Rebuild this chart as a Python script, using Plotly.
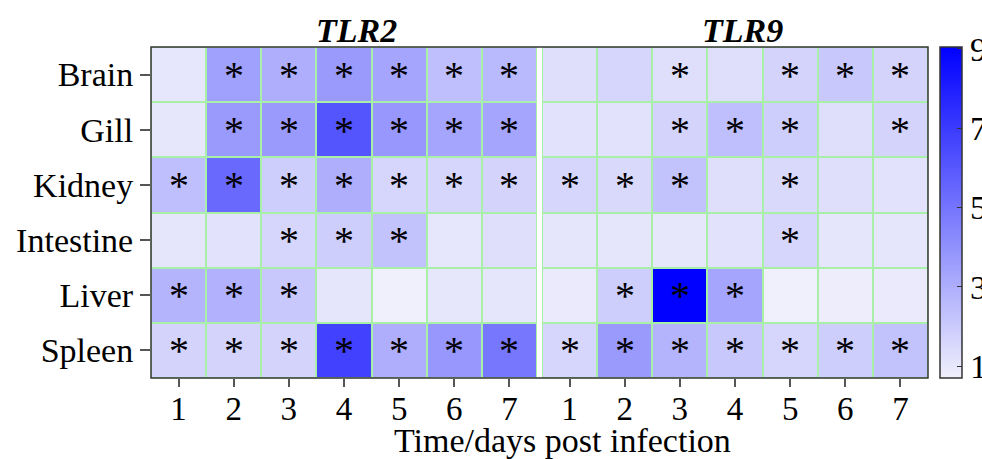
import plotly.graph_objects as go

tissues = ["Brain", "Gill", "Kidney", "Intestine", "Liver", "Spleen"]
days = [1, 2, 3, 4, 5, 6, 7]
colorbar_ticks = [1, 3, 5, 7, 9]

tlr2 = [
    [1.05, 3.5, 3.0, 3.7, 3.3, 2.4, 2.6],
    [1.0, 3.7, 3.7, 6.1, 3.8, 3.3, 3.3],
    [2.4, 5.4, 1.9, 3.0, 1.6, 1.6, 1.7],
    [1.1, 1.2, 1.6, 1.9, 2.3, 1.05, 1.3],
    [2.8, 2.9, 2.1, 1.1, 0.7, 1.0, 1.1],
    [1.7, 1.7, 1.7, 6.8, 3.0, 3.8, 4.9],
]
tlr9 = [
    [1.3, 1.6, 1.3, 1.3, 1.7, 2.1, 1.7],
    [1.2, 1.2, 1.7, 2.4, 1.9, 1.3, 1.7],
    [1.6, 1.5, 2.3, 1.3, 1.5, 1.3, 1.2],
    [1.1, 1.1, 1.0, 1.2, 1.6, 1.1, 1.1],
    [0.9, 1.9, 9.0, 3.3, 0.7, 0.8, 0.9],
    [1.6, 3.7, 2.8, 2.1, 1.6, 1.9, 2.3],
]
# 1 = significant (asterisk)
sig2 = [
    [0, 1, 1, 1, 1, 1, 1],
    [0, 1, 1, 1, 1, 1, 1],
    [1, 1, 1, 1, 1, 1, 1],
    [0, 0, 1, 1, 1, 0, 0],
    [1, 1, 1, 0, 0, 0, 0],
    [1, 1, 1, 1, 1, 1, 1],
]
sig9 = [
    [0, 0, 1, 0, 1, 1, 1],
    [0, 0, 1, 1, 1, 0, 1],
    [1, 1, 1, 0, 1, 0, 0],
    [0, 0, 0, 0, 1, 0, 0],
    [0, 1, 1, 1, 0, 0, 0],
    [1, 1, 1, 1, 1, 1, 1],
]

ZMIN, ZMAX = 0.7, 9.05
cscale = [[0, "rgb(240,240,252)"], [1, "rgb(0,0,255)"]]
SERIF = "Liberation Serif"
GRID = "#a8f0a8"


def stars(sig):
    return [["*" if s else "" for s in row] for row in sig]


fig = go.Figure()
fig.add_trace(go.Heatmap(
    z=tlr2, x=days, y=tissues, text=stars(sig2), texttemplate="%{text}",
    textfont=dict(family=SERIF, size=40, color="black"),
    colorscale=cscale, zmin=ZMIN, zmax=ZMAX, xgap=2, ygap=2,
    xaxis="x", yaxis="y", showscale=False, hoverinfo="z",
))
fig.add_trace(go.Heatmap(
    z=tlr9, x=days, y=tissues, text=stars(sig9), texttemplate="%{text}",
    textfont=dict(family=SERIF, size=40, color="black"),
    colorscale=cscale, zmin=ZMIN, zmax=ZMAX, xgap=2, ygap=2,
    xaxis="x2", yaxis="y2", showscale=True,
    colorbar=dict(
        x=1.0154, xanchor="left", xpad=0, thickness=22, len=1, ypad=0,
        y=0.5, yanchor="middle", outlinecolor="#333", outlinewidth=1.5,
        tickvals=colorbar_ticks, ticks="inside", ticklen=5, tickcolor="#333",
        tickfont=dict(family=SERIF, size=34, color="black"),
    ),
))

tickfont = dict(family=SERIF, size=33, color="black")
xcommon = dict(tickvals=days, ticks="outside", ticklen=8, tickcolor="#555",
               tickwidth=1.5, tickfont=tickfont, ticklabelstandoff=-7,
               showgrid=False, zeroline=False, range=[0.5, 7.5])
fig.update_layout(
    width=982, height=459,
    margin=dict(l=151, r=54, t=47, b=81, autoexpand=False),
    paper_bgcolor="white", plot_bgcolor=GRID,
    xaxis=dict(domain=[0, 0.4968], **xcommon),
    xaxis2=dict(domain=[0.5032, 1], **xcommon),
    yaxis=dict(autorange="reversed", ticks="outside", ticklen=10,
               tickcolor="#555", tickwidth=1.5,
               tickfont=dict(family=SERIF, size=34, color="black"),
               showgrid=False, anchor="x"),
    yaxis2=dict(autorange="reversed", showticklabels=False, showgrid=False,
                anchor="x2", matches="y"),
    shapes=[dict(type="rect", xref="paper", yref="paper", x0=0, x1=1, y0=0, y1=1,
                 line=dict(color="#333", width=1.5), layer="above")],
    annotations=[
        dict(text="<b><i>TLR2</i></b>", xref="paper", yref="paper", x=0.264, y=1.051,
             xanchor="center", yanchor="middle", showarrow=False,
             font=dict(family=SERIF, size=34, color="black")),
        dict(text="<b><i>TLR9</i></b>", xref="paper", yref="paper", x=0.761, y=1.051,
             xanchor="center", yanchor="middle", showarrow=False,
             font=dict(family=SERIF, size=34, color="black")),
        dict(text="Time/days post infection", xref="paper", yref="paper", x=0.530,
             y=-0.19, xanchor="center", yanchor="middle", showarrow=False,
             font=dict(family=SERIF, size=34, color="black")),
    ],
)

fig.write_html("out.html")
